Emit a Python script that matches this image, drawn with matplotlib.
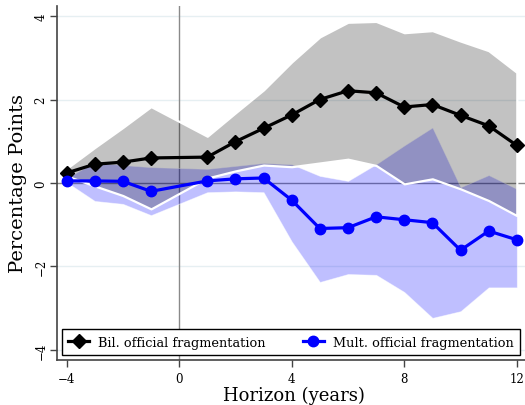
import matplotlib
matplotlib.use("Agg")
import matplotlib.pyplot as plt

plt.rcParams["font.family"] = ["DejaVu Serif"]

# horizon (no estimate at 0)
horizon = [-4, -3, -2, -1, 1, 2, 3, 4, 5, 6, 7, 8, 9, 10, 11, 12]

# bilateral official fragmentation
bil = [0.24, 0.45, 0.50, 0.60, 0.62, 0.99, 1.31, 1.63, 2.00, 2.21, 2.16, 1.82, 1.88, 1.62, 1.37, 0.90]
bil_hi = [0.35, 0.85, 1.33, 1.83, 1.12, 1.68, 2.23, 2.90, 3.50, 3.85, 3.87, 3.60, 3.65, 3.40, 3.17, 2.65]
bil_lo = [0.17, -0.07, -0.30, -0.62, 0.12, 0.29, 0.43, 0.39, 0.48, 0.57, 0.42, -0.02, 0.10, -0.14, -0.42, -0.78]

# multilateral official fragmentation
mult = [0.05, 0.05, 0.04, -0.20, 0.05, 0.10, 0.12, -0.41, -1.09, -1.07, -0.81, -0.88, -0.95, -1.61, -1.15, -1.36]
mult_hi = [0.12, 0.50, 0.43, 0.38, 0.34, 0.41, 0.48, 0.45, 0.17, 0.05, 0.45, 0.90, 1.33, -0.10, 0.19, -0.14]
mult_lo = [0.02, -0.43, -0.50, -0.77, -0.22, -0.20, -0.22, -1.40, -2.37, -2.18, -2.20, -2.61, -3.23, -3.07, -2.50, -2.50]

fig = plt.figure(figsize=(5.25, 4.06), dpi=100)
# axes runs a bit past the right edge, like the original
ax = fig.add_axes([0.1086, 0.1108, 0.901, 0.872])

# grid and reference lines
for g in [-4, -2, 2, 4]:
    ax.axhline(g, color="#e6eff2", lw=1, zorder=0)
ax.axhline(0, color="#8a8a8a", lw=1, zorder=1)
ax.axvline(0, color="#8a8a8a", lw=1, zorder=1)

# confidence bands
ax.fill_between(horizon, mult_lo, mult_hi, facecolor=(0, 0, 1, 0.25),
                edgecolor=(1, 1, 1, 0.5), lw=0.6, zorder=2)
ax.fill_between(horizon, bil_lo, bil_hi, facecolor=(0, 0, 0, 0.24),
                edgecolor="white", lw=1.6, zorder=3)

ax.plot(horizon, bil, color="black", lw=2.3, marker="D", ms=7.5,
        label="Bil. official fragmentation", zorder=5)
ax.plot(horizon, mult, color="blue", lw=2.3, marker="o", ms=7.5,
        label="Mult. official fragmentation", zorder=5)

ax.set_xlim(-4.34, 12.47)
ax.set_ylim(-4.24, 4.24)
ax.set_xticks([-4, 0, 4, 8, 12])
ax.set_yticks([-4, -2, 0, 2, 4])
ax.tick_params(axis="both", labelsize=8.5, length=5, width=1, color="#444444")
ax.tick_params(axis="y", labelrotation=90, pad=2)
for lab in ax.get_yticklabels():
    lab.set_va("center")

for side in ["top", "right"]:
    ax.spines[side].set_visible(False)
for side in ["left", "bottom"]:
    ax.spines[side].set_color("#444444")
    ax.spines[side].set_linewidth(1.2)

ax.set_xlabel("Horizon (years)", fontsize=13, labelpad=1)
ax.set_ylabel("Percentage Points", fontsize=14, labelpad=5)

leg = ax.legend(loc="lower left", bbox_to_anchor=(0.0106, 0.0141, 0.968, 0.079),
                mode="expand", ncol=2, borderaxespad=0, fontsize=9.3,
                fancybox=False, framealpha=1, edgecolor="black",
                handlelength=1.6, borderpad=0.5, handletextpad=0.7)
leg.get_frame().set_linewidth(1)

fig.savefig("out.png", dpi=100)
